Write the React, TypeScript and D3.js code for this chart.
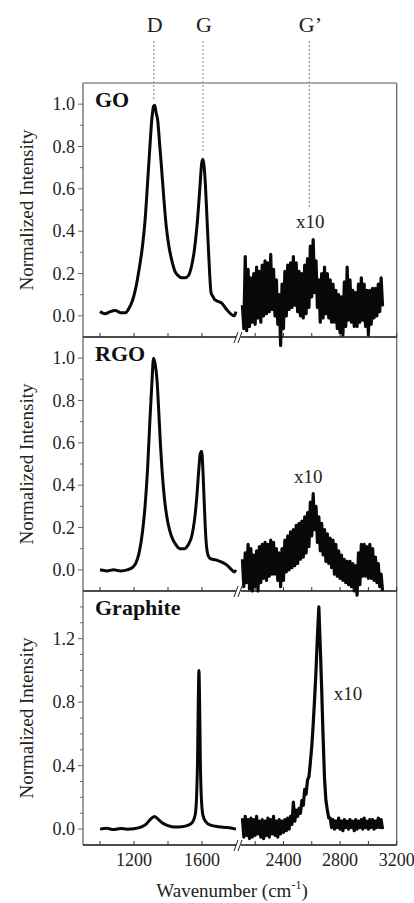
import React from "react";
import * as d3 from "d3";

// Raman spectra, normalized; the G' region (right of the break) is shown x10
const goLeftWn = [1000, 1030, 1060, 1090, 1120, 1150, 1170, 1190, 1210, 1230, 1250, 1265, 1280, 1292, 1305, 1315, 1322, 1330, 1340, 1350, 1360, 1375, 1390, 1405, 1420, 1441, 1460, 1480, 1500, 1520, 1540, 1555, 1570, 1588, 1598, 1605, 1612, 1620, 1630, 1637, 1645, 1653, 1665, 1676, 1690, 1716, 1745, 1775, 1790, 1800];
const goLeft = [0.02, 0.01, 0.02, 0.025, 0.015, 0.015, 0.035, 0.07, 0.13, 0.22, 0.33, 0.45, 0.63, 0.78, 0.93, 0.99, 0.995, 0.96, 0.92, 0.82, 0.72, 0.56, 0.42, 0.33, 0.27, 0.21, 0.19, 0.18, 0.18, 0.19, 0.24, 0.31, 0.42, 0.61, 0.72, 0.74, 0.71, 0.62, 0.45, 0.33, 0.2, 0.11, 0.09, 0.075, 0.07, 0.06, 0.03, 0.005, 0.0, 0.02];

const rgoLeftWn = [1000, 1040, 1080, 1120, 1160, 1190, 1210, 1230, 1250, 1265, 1280, 1292, 1305, 1315, 1325, 1335, 1345, 1355, 1365, 1380, 1400, 1420, 1445, 1470, 1495, 1520, 1540, 1555, 1568, 1580, 1590, 1598, 1606, 1614, 1622, 1632, 1645, 1660, 1690, 1720, 1750, 1775, 1790, 1800];
const rgoLeft = [0.0, -0.005, 0.0, -0.005, 0.0, 0.01, 0.03, 0.08, 0.18, 0.3, 0.48, 0.68, 0.88, 1.0, 0.97, 0.9, 0.76, 0.6, 0.47, 0.33, 0.22, 0.16, 0.12, 0.1, 0.1, 0.12, 0.16, 0.23, 0.33, 0.46, 0.55, 0.56, 0.46, 0.3, 0.16, 0.08, 0.055, 0.05, 0.045, 0.035, 0.02, 0.0, -0.01, 0.0];

const grLeftWn = [1000, 1040, 1080, 1120, 1160, 1200, 1240, 1270, 1295, 1320, 1340, 1365, 1400, 1440, 1480, 1520, 1545, 1560, 1568, 1574, 1578, 1582, 1586, 1590, 1596, 1605, 1620, 1650, 1700, 1750, 1800];
const grLeft = [0.0, 0.005, -0.003, 0.004, 0.0, 0.003, 0.012, 0.03, 0.06, 0.08, 0.065, 0.04, 0.022, 0.013, 0.015, 0.025, 0.045, 0.09, 0.2, 0.45, 0.8, 1.0, 0.8, 0.45, 0.2, 0.09, 0.05, 0.025, 0.015, 0.01, 0.0];

// G' region, sampled every 10 cm-1 from 2110 to 3100
const g2Wn = d3.range(2110, 3101, 10);
const goG2 = [
  0.05, -0.06, 0.28, -0.07, 0.22, -0.05, 0.18, -0.03, 0.2, -0.04, 0.23, -0.01, 0.21, -0.03, 0.24, 0.0, 0.26, 0.01, 0.25, 0.02,
  0.29, 0.03, 0.22, 0.0, 0.17, -0.04, 0.1, -0.14, 0.15, -0.06, 0.21, 0.0, 0.24, 0.03, 0.25, 0.04, 0.28, 0.05, 0.25, 0.02,
  0.21, 0.0, 0.2, -0.01, 0.24, 0.01, 0.27, 0.04, 0.33, 0.09, 0.36, 0.11, 0.26, 0.04, 0.17, -0.03, 0.2, -0.01, 0.23, 0.01,
  0.2, -0.01, 0.17, -0.03, 0.15, -0.03, 0.12, -0.06, 0.1, -0.08, 0.09, -0.09, 0.16, -0.05, 0.23, -0.02, 0.17, -0.03, 0.12, -0.05,
  0.11, -0.05, 0.15, -0.03, 0.18, -0.02, 0.15, -0.05, 0.12, -0.09, 0.12, -0.04, 0.13, -0.01, 0.13, 0.0, 0.15, 0.02, 0.18, 0.045,
];
const rgoG2 = [
  0.05, -0.08, 0.08, -0.06, 0.12, -0.09, 0.1, -0.1, 0.07, -0.08, 0.09, -0.1, 0.11, -0.06, 0.12, -0.04, 0.13, -0.05, 0.12, -0.03,
  0.14, -0.02, 0.13, -0.02, 0.1, -0.05, 0.08, -0.08, 0.1, -0.05, 0.14, -0.01, 0.16, 0.0, 0.18, 0.01, 0.19, 0.02, 0.21, 0.03,
  0.22, 0.05, 0.23, 0.06, 0.25, 0.08, 0.27, 0.11, 0.32, 0.16, 0.36, 0.19, 0.3, 0.13, 0.25, 0.09, 0.22, 0.07, 0.19, 0.04,
  0.17, 0.03, 0.15, 0.01, 0.14, -0.02, 0.12, -0.03, 0.09, -0.04, 0.07, -0.05, 0.05, -0.06, 0.04, -0.07, 0.04, -0.08, 0.03, -0.1,
  0.02, -0.12, 0.08, -0.07, 0.12, -0.03, 0.12, -0.03, 0.11, -0.04, 0.12, -0.04, 0.1, -0.05, 0.06, -0.06, 0.03, -0.08, -0.02, -0.1,
];
const grG2 = [
  0.07, -0.05, 0.08, -0.04, 0.06, -0.06, 0.07, -0.05, 0.06, -0.04, 0.08, -0.03, 0.05, -0.05, 0.06, -0.06, 0.05, -0.04, 0.07, -0.05,
  0.06, -0.03, 0.08, -0.04, 0.05, -0.05, 0.06, -0.03, 0.05, -0.02, 0.06, -0.01, 0.07, 0.0, 0.08, 0.03, 0.17, 0.05, 0.12, 0.08,
  0.13, 0.1, 0.18, 0.15, 0.25, 0.22, 0.31, 0.33, 0.42, 0.52, 0.66, 0.82, 1.0, 1.22, 1.4, 1.15, 0.88, 0.58, 0.32, 0.18,
  0.12, 0.07, 0.07, 0.01, 0.06, 0.0, 0.05, 0.01, 0.07, 0.0, 0.05, -0.01, 0.06, 0.01, 0.05, 0.0, 0.06, 0.01, 0.05, -0.01,
  0.06, 0.0, 0.05, 0.01, 0.06, 0.0, 0.07, 0.01, 0.05, 0.0, 0.06, 0.01, 0.06, 0.0, 0.05, 0.01, 0.07, 0.01, 0.06, 0.0,
];

const xTicksLeft = [1000, 1200, 1400, 1600];
const xTicksRight = [2200, 2400, 2600, 2800, 3000, 3200];
const xLabels = [1200, 1600, 2400, 2800, 3200];

// band markers: wavenumber and where the dotted guide stops (GO intensity)
const bandNames = ["D", "G", "G\u2019"];
const bandWn = [1316, 1606, 2583];
const bandStop = [1.02, 0.77, 0.51];

const W = 414;
const H = 903;
const PANEL_H = 254;
const FONT = "'Liberation Serif', 'Times New Roman', serif";

const xLeft = d3.scaleLinear().domain([900, 1800]).range([83, 236]);
const xRight = d3.scaleLinear().domain([2100, 3200]).range([241, 396.7]);
const LEFT = xLeft.range()[0];
const RIGHT = xRight.range()[1];

const zip = (a: number[], b: number[]) => a.map((v, i) => [v, b[i]] as [number, number]);

const panels = [
  {
    name: "GO", top: 83, domain: [-0.1, 1.1], labelStep: 0.2,
    ticks: d3.range(0, 1.05, 0.1), left: zip(goLeftWn, goLeft), right: zip(g2Wn, goG2),
    x10: [2590, 0.415],
  },
  {
    name: "RGO", top: 337, domain: [-0.1, 1.1], labelStep: 0.2,
    ticks: d3.range(0, 1.05, 0.1), left: zip(rgoLeftWn, rgoLeft), right: zip(g2Wn, rgoG2),
    x10: [2575, 0.41],
  },
  {
    name: "Graphite", top: 591, domain: [-0.1, 1.5], labelStep: 0.4,
    ticks: d3.range(0, 1.45, 0.1), left: zip(grLeftWn, grLeft), right: zip(g2Wn, grG2),
    x10: [2856, 0.816],
  },
];

function Panel({ p, isLast }: { p: any; isLast: boolean }) {
  const y = d3.scaleLinear().domain(p.domain).range([p.top + PANEL_H, p.top]);
  const bottom = p.top + PANEL_H;
  const leftLine = d3.line<[number, number]>()
    .x((d) => xLeft(d[0]))
    .y((d) => y(d[1]))
    .curve(d3.curveMonotoneX);
  const rightLine = d3.line<[number, number]>()
    .x((d) => xRight(d[0]))
    .y((d) => y(d[1]));
  const isMajor = (t: number) => Math.abs(t / p.labelStep - Math.round(t / p.labelStep)) < 1e-6;
  const fmt = d3.format(".1f");
  return (
    <g>
      {/* y axis */}
      <line x1={LEFT} x2={LEFT} y1={p.top} y2={bottom} stroke="#666" strokeWidth={1.3} />
      {p.ticks.map((t: number, i: number) => (
        <g key={i}>
          <line x1={LEFT - (isMajor(t) ? 5 : 3)} x2={LEFT} y1={y(t)} y2={y(t)} stroke="#666" strokeWidth={1} />
          {isMajor(t) && (
            <text x={75} y={y(t)} dy="0.35em" textAnchor="end" fontSize={18} fontFamily={FONT} fill="#222">
              {fmt(t)}
            </text>
          )}
        </g>
      ))}
      <text
        transform={`translate(26,${p.top + PANEL_H / 2}) rotate(-90)`}
        textAnchor="middle" dy="0.35em" fontSize={19} fontFamily={FONT} fill="#222"
      >
        Normalized Intensity
      </text>
      {/* bottom axis with break */}
      <line x1={LEFT} x2={xLeft.range()[1]} y1={bottom} y2={bottom} stroke="#111" strokeWidth={1.3} />
      <line x1={xRight.range()[0]} x2={RIGHT} y1={bottom} y2={bottom} stroke="#111" strokeWidth={1.3} />
      {xTicksLeft.map((t) => (
        <line key={t} x1={xLeft(t)} x2={xLeft(t)} y1={bottom} y2={bottom - 4} stroke="#333" strokeWidth={1} />
      ))}
      {xTicksRight.map((t) => (
        <line key={t} x1={xRight(t)} x2={xRight(t)} y1={bottom} y2={bottom - 4} stroke="#333" strokeWidth={1} />
      ))}
      {[0, 4].map((o) => (
        <line key={o} x1={xLeft.range()[1] - 2 + o} y1={bottom + 6} x2={xLeft.range()[1] + 2 + o} y2={bottom - 5}
          stroke="#222" strokeWidth={1} />
      ))}
      {isLast &&
        xLabels.map((t) => (
          <text key={t} x={t < 2000 ? xLeft(t) : xRight(t)} y={866} textAnchor="middle" fontSize={18}
            fontFamily={FONT} fill="#222">
            {t}
          </text>
        ))}
      {/* spectra */}
      <path d={leftLine(p.left) || ""} fill="none" stroke="#080808" strokeWidth={3} strokeLinejoin="round" />
      <path d={rightLine(p.right) || ""} fill="none" stroke="#080808" strokeWidth={3.2} strokeLinejoin="round" />
      <text x={95} y={p.top + 24} fontSize={22} fontWeight="bold" fontFamily={FONT} fill="#111">
        {p.name}
      </text>
      <text x={xRight(p.x10[0])} y={y(p.x10[1])} textAnchor="middle" fontSize={19} fontFamily={FONT} fill="#222">
        x10
      </text>
    </g>
  );
}

export default function App() {
  const yGo = d3.scaleLinear().domain(panels[0].domain).range([panels[0].top + PANEL_H, panels[0].top]);
  return (
    <svg width={W} height={H} style={{ position: "absolute", left: 0, top: 0, background: "#fff" }}>
      <rect width={W} height={H} fill="#fff" />
      {/* frame: top and right */}
      <line x1={LEFT} x2={RIGHT} y1={panels[0].top} y2={panels[0].top} stroke="#555" strokeWidth={1.2} />
      <line x1={RIGHT} x2={RIGHT} y1={panels[0].top} y2={panels[2].top + PANEL_H} stroke="#666" strokeWidth={1.3} />
      {/* band guides */}
      {bandNames.map((n, i) => {
        const x = bandWn[i] < 2000 ? xLeft(bandWn[i]) : xRight(bandWn[i]);
        return (
          <g key={n}>
            <line x1={x} x2={x} y1={41} y2={yGo(bandStop[i])} stroke="#999" strokeWidth={1.2} strokeDasharray="2,2" />
            <text x={x + 1} y={32} textAnchor="middle" fontSize={22} fontFamily={FONT} fill="#222">
              {n}
            </text>
          </g>
        );
      })}
      {panels.map((p, i) => (
        <Panel key={p.name} p={p} isLast={i === panels.length - 1} />
      ))}
      <text x={232} y={897} textAnchor="middle" fontSize={19} fontFamily={FONT} fill="#222">
        Wavenumber (cm
        <tspan fontSize={12} dy={-8}>-1</tspan>
        <tspan dy={8}>)</tspan>
      </text>
    </svg>
  );
}
